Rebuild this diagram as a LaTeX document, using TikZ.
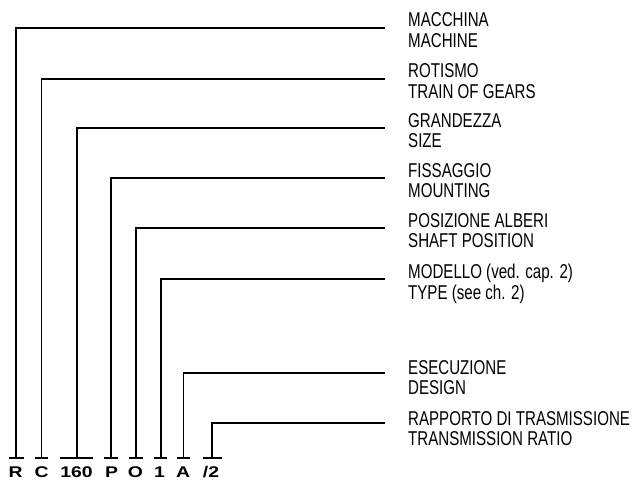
\documentclass[tikz,border=0pt]{standalone}
\usepackage{fontspec}
\setmainfont{Liberation Sans}
\newfontfamily\lblfont[FakeStretch=0.755]{Liberation Sans}
\newfontfamily\codefont[FakeStretch=1.25]{Liberation Sans}
\begin{document}
\begin{tikzpicture}[x=1pt,y=-1pt,
  ln/.style={line width=1.2pt,black},
  lbl/.style={anchor=base west,inner sep=0pt,font=\lblfont\fontsize{20}{22}\selectfont},
  code/.style={anchor=base,inner sep=0pt,font=\codefont\bfseries\fontsize{15.5}{17}\selectfont}]
\useasboundingbox (0,0) rectangle (633,484);
% code letters
\node[code] (c1) at (15.5,477.5) {R};
\node[code] (c2) at (41.5,477.5) {C};
\node[code] (c3) at (76.5,477.5) {160};
\node[code] (c4) at (111.5,477.5) {P};
\node[code] (c5) at (135.5,477.5) {O};
\node[code] (c6) at (159.5,477.5) {1};
\node[code] (c7) at (183,477.5) {A};
\node[code] (c8) at (211,477.5) {/2};
% crossbar points
\coordinate (b1) at (16,458);
\coordinate (b2) at (41.5,458);
\coordinate (b3) at (77,458);
\coordinate (b4) at (111,458);
\coordinate (b5) at (136,458);
\coordinate (b6) at (161,458);
\coordinate (b7) at (183.5,458);
\coordinate (b8) at (212,458);
% line ends
\coordinate (e1) at (385,28);
\coordinate (e2) at (385,79);
\coordinate (e3) at (385,128);
\coordinate (e4) at (385,178);
\coordinate (e5) at (385,228);
\coordinate (e6) at (385,279);
\coordinate (e7) at (385,373);
\coordinate (e8) at (385,423);
% crossbars
\draw[ln] (9,458) -- (24,458);
\draw[ln] (35,458) -- (48,458);
\draw[ln] (60,458) -- (93,458);
\draw[ln] (104,458) -- (118,458);
\draw[ln] (129,458) -- (143,458);
\draw[ln] (154,458) -- (167,458);
\draw[ln] (177,458) -- (190,458);
\draw[ln] (203,458) -- (222,458);
% connectors
\foreach \i in {1,...,8} {\draw[ln] (b\i) |- (e\i);}
% labels
\node[lbl] (t1a) at (408,27) {MACCHINA};
\node[lbl] (t1b) at (408,47.5) {MACHINE};
\node[lbl] (t2a) at (408,78) {ROTISMO};
\node[lbl] (t2b) at (408,98.5) {TRAIN OF GEARS};
\node[lbl] (t3a) at (408,127.5) {GRANDEZZA};
\node[lbl] (t3b) at (408,148) {SIZE};
\node[lbl] (t4a) at (408,177.5) {FISSAGGIO};
\node[lbl] (t4b) at (408,198) {MOUNTING};
\node[lbl] (t5a) at (408,227.5) {POSIZIONE ALBERI};
\node[lbl] (t5b) at (408,248) {SHAFT POSITION};
\node[lbl] (t6a) at (408,279) {MODELLO (ved. cap. 2)};
\node[lbl] (t6b) at (408,299.5) {TYPE (see ch. 2)};
\node[lbl] (t7a) at (408,374) {ESECUZIONE};
\node[lbl] (t7b) at (408,394.5) {DESIGN};
\node[lbl] (t8a) at (408,425) {RAPPORTO DI TRASMISSIONE};
\node[lbl] (t8b) at (408,445.5) {TRANSMISSION RATIO};
\end{tikzpicture}
\end{document}
